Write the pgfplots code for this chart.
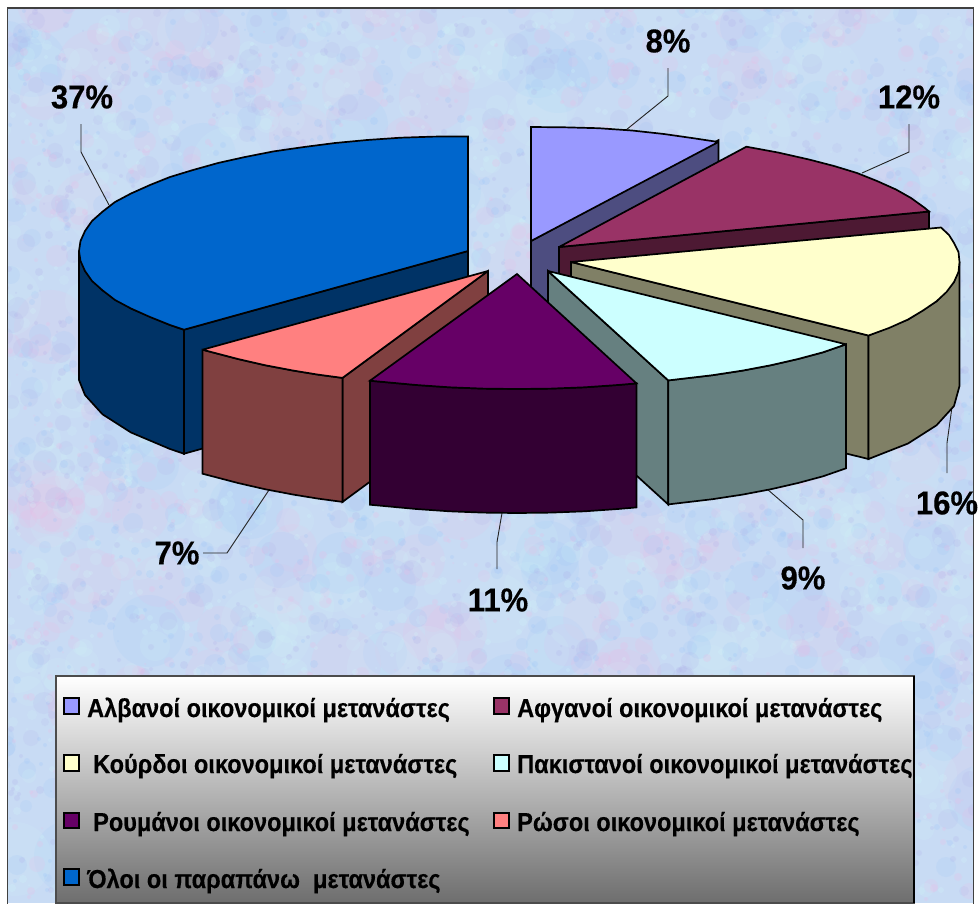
\documentclass[border=0pt]{standalone}
\usepackage{fontspec}
\usepackage{pgfplots}
\pgfplotsset{compat=1.18}
\setmainfont{Liberation Sans}
\newfontfamily\pctfont[BoldFeatures={FakeStretch=0.94,FakeBold=0.35}]{Liberation Sans}
\newfontfamily\keyfont[BoldFeatures={FakeStretch=0.905,FakeBold=0.3}]{Liberation Sans}

% slice colours: top faces and darker walls
\definecolor{albTop}{HTML}{9999FF}\definecolor{albSide}{HTML}{4D4D80}
\definecolor{afgTop}{HTML}{993366}\definecolor{afgSide}{HTML}{4D1933}
\definecolor{kurTop}{HTML}{FFFFCC}\definecolor{kurSide}{HTML}{808066}
\definecolor{pakTop}{HTML}{CCFFFF}\definecolor{pakSide}{HTML}{668080}
\definecolor{rouTop}{HTML}{660066}\definecolor{rouSide}{HTML}{330033}
\definecolor{rusTop}{HTML}{FF8080}\definecolor{rusSide}{HTML}{804040}
\definecolor{allTop}{HTML}{0066CC}\definecolor{allSide}{HTML}{003366}
\definecolor{leader}{HTML}{222222}
\definecolor{paper}{HTML}{C8DBF4}
\definecolor{mottleA}{HTML}{F0B8E4}
\definecolor{mottleB}{HTML}{98C4FA}
\definecolor{mottleC}{HTML}{D2F8FA}
\definecolor{mottleD}{HTML}{B0B0EA}

% small congruential generator for the paper texture
\newcount\txs \newcount\txq \global\txs=4711
\newcommand\txnext{%
  \global\multiply\txs by 17364
  \global\txq=\txs \global\divide\txq by 65521 \global\multiply\txq by 65521
  \global\advance\txs by -\txq}
\newcount\txx \newcount\txy \newcount\txr
% #1 number of blotches, #2 smallest radius, #3 radius range
\newcommand\blotches[3]{%
  \foreach \n in {1,...,#1}{%
    \txnext \txx=\numexpr\txs*985/65521\relax
    \txnext \txy=\numexpr\txs*900/65521\relax
    \txnext \txr=\numexpr #2+\txs*#3/65521\relax
    \fill (\the\txx pt,\the\numexpr903-\txy\relax pt) circle[radius=\the\txr pt];
  }}

\tikzset{slice/.style={line width=1.7pt,draw=black,line join=miter,miter limit=3},
         lead/.style={line width=0.9pt,draw=leader},
         key/.style={fill=#1,draw=black,line width=1.5pt}}

\newcommand\pct[3]{\node[inner sep=0pt,anchor=center] at (axis cs:#1,#2)
  {\pctfont\bfseries\fontsize{33}{33}\selectfont #3};}
\newcommand\keytext[3]{\node[inner sep=0pt,anchor=base west] at (axis cs:#1,#2)
  {\keyfont\bfseries\fontsize{26}{26}\selectfont #3};}

\begin{document}
\begin{tikzpicture}[x=1pt,y=1pt]
\path[use as bounding box] (0,0) rectangle (979,903);
\fill[white] (0,0) rectangle (979,903);
\begin{scope}
  \clip (7.5,-2) rectangle (973.5,895);
  \fill[paper] (0,0) rectangle (979,903);
  \begin{scope}[fill opacity=0.13]
    \begin{scope}[fill=mottleA]\blotches{120}{12}{26}\end{scope}
    \begin{scope}[fill=mottleB]\blotches{120}{12}{26}\end{scope}
    \begin{scope}[fill=mottleC]\blotches{150}{12}{26}\end{scope}
  \end{scope}
  \begin{scope}[fill opacity=0.16]
    \begin{scope}[fill=mottleA]\blotches{420}{4}{8}\end{scope}
    \begin{scope}[fill=mottleB]\blotches{420}{4}{8}\end{scope}
    \begin{scope}[fill=mottleC]\blotches{500}{4}{8}\end{scope}
    \begin{scope}[fill=mottleD]\blotches{420}{4}{8}\end{scope}
  \end{scope}
  \begin{scope}[fill opacity=0.22]
    \begin{scope}[fill=mottleA]\blotches{800}{1}{3}\end{scope}
    \begin{scope}[fill=mottleB]\blotches{800}{1}{3}\end{scope}
    \begin{scope}[fill=mottleC]\blotches{900}{1}{3}\end{scope}
    \begin{scope}[fill=mottleD]\blotches{800}{1}{3}\end{scope}
  \end{scope}
\end{scope}
\draw[draw=black!75,line width=1.5pt] (7.5,-5) -- (7.5,895) -- (973.5,895) -- (973.5,-5);

\begin{axis}[at={(0,0)},anchor=south west,scale only axis,width=979pt,height=903pt,
  xmin=0,xmax=979,ymin=0,ymax=903,y dir=reverse,hide axis,clip=true,no markers]

% leader lines
\addplot[lead,forget plot] coordinates {(81,124) (81,152) (109,205)};
\addplot[lead,forget plot] coordinates {(668,68) (668,96) (626,130)};
\addplot[lead,forget plot] coordinates {(909,124) (909,152) (862,173)};
\addplot[lead,forget plot] coordinates {(947,473) (947,443) (952,407)};
\addplot[lead,forget plot] coordinates {(803,548) (803,520) (767,489)};
\addplot[lead,forget plot] coordinates {(497,569) (497,542) (502,513)};
\addplot[lead,forget plot] coordinates {(203,553) (227,553) (269,490)};

% Albanian share, 8%
\addplot[slice,fill=albSide,forget plot] coordinates {(531,241) (718.4,140.2) (718.4,264.2) (531,365)} --cycle;
\addplot[slice,fill=albTop,forget plot] coordinates {(531,241) (531,127) (564,127.3) (598.5,128.2) (632,130.5) (664,134) (692,138) (718.4,142)} --cycle;

% Afghan share, 12%
\addplot[slice,fill=afgSide,forget plot] coordinates {(559,247) (929,211.5) (929,335.5) (559,371)} --cycle;
\addplot[slice,fill=afgTop,forget plot] coordinates {(559,247) (746.4,146.7) (778,152.5) (809,159.5) (834,166) (857,173) (877,181) (896,189.5) (911,198) (924.5,207.7) (929,211.5)} --cycle;

% Kurdish share, 16%
\addplot[slice,fill=kurSide,forget plot] coordinates {(571,262) (868.5,335.5) (868.5,459) (571,386)} --cycle;
\addplot[slice,fill=kurSide,forget plot] coordinates {(959.5,262) (954,282) (936.5,301.3) (908,319.5) (868.5,335.5) (868.5,459) (908,443.5) (936.5,425.3) (954,406) (959.5,386)} --cycle;
\addplot[slice,fill=kurTop,forget plot] coordinates {(571,262) (941,227.5) (949,235) (954,243) (958.5,252) (959.5,262) (958.5,272) (954,282) (946.5,292) (936.5,301.3) (923,310.5) (908,319.5) (889,328) (868.5,335.5)} --cycle;

% combined share, 37%
\addplot[slice,fill=allSide,forget plot] coordinates {(468,251) (184,329.7) (184,453.7) (468,375)} --cycle;
\addplot[slice,fill=allSide,forget plot] coordinates {(79,251) (85,271) (102.5,290.3) (131,308.5) (170,325) (184,329.7) (184,453.7) (170,449) (131,432.5) (102.5,414.3) (85,395) (79,380)} --cycle;
\addplot[slice,fill=allTop,forget plot] coordinates {(468,251) (468,136.5) (434,136.6) (400.5,137.7) (367,140) (335,143) (304,147) (273.5,151.4) (245,157) (218,163) (193,170) (170,177) (150,185) (131,193.5) (115,202) (102.5,211.7) (92,221) (85,231) (80.5,241) (79,251) (80.5,261) (85,271) (92,281) (102.5,290.3) (115,300) (131,308.5) (150,317) (170,325) (184,329.7)} --cycle;

% Russian share, 7%
\addplot[slice,fill=rusSide,forget plot] coordinates {(488,271) (342.5,377.9) (342.5,501.9) (488,395)} --cycle;
\addplot[slice,fill=rusSide,forget plot] coordinates {(202.5,349.7) (238,359) (265,365.2) (293.5,370.6) (318,374.6) (342.5,377.9) (342.5,501.9) (318,498.6) (293.5,494.6) (265,489.2) (238,483) (202.5,473.7)} --cycle;
\addplot[slice,fill=rusTop,forget plot] coordinates {(488,271) (202.5,349.7) (238,359) (265,365.2) (293.5,370.6) (318,374.6) (342.5,377.9)} --cycle;

% Pakistani share, 9%
\addplot[slice,fill=pakSide,forget plot] coordinates {(548,271) (668.2,380.4) (668.2,504.4) (548,395)} --cycle;
\addplot[slice,fill=pakSide,forget plot] coordinates {(846,344.3) (823,352.3) (798,359) (771,365.2) (742.5,370.6) (712.4,375.2) (668.2,380.4) (668.2,504.4) (712.4,499.2) (742.5,494.6) (771,489.2) (798,483) (823,476.3) (846,468.3)} --cycle;
\addplot[slice,fill=pakTop,forget plot] coordinates {(548,271) (846,344.3) (823,352.3) (798,359) (771,365.2) (742.5,370.6) (712.4,375.2) (668.2,380.4)} --cycle;

% Romanian share, 11%
\addplot[slice,fill=rouSide,forget plot] coordinates {(636.5,383.4) (617.7,385) (584.5,387.3) (551,388.6) (517,389) (483,388.6) (449.5,387.3) (416.3,385) (370,380.7) (370,504.7) (416.3,509) (449.5,511.3) (483,512.6) (517,513) (551,512.6) (584.5,511.3) (617.7,509) (636.5,507.4)} --cycle;
\addplot[slice,fill=rouTop,forget plot] coordinates {(517,274) (636.5,383.4) (617.7,385) (584.5,387.3) (551,388.6) (517,389) (483,388.6) (449.5,387.3) (416.3,385) (370,380.7)} --cycle;

% percentage labels
\pct{82}{97}{37\%}
\pct{668}{41}{8\%}
\pct{909}{97}{12\%}
\pct{947}{503}{16\%}
\pct{803}{578}{9\%}
\pct{498}{600}{11\%}
\pct{177}{553}{7\%}

% key box with its vertical gradient
\path[top color=white,bottom color=black!57,draw=black!70,line width=1.3pt] (axis cs:56,676) rectangle (axis cs:914,903);
\addplot[draw=black,line width=1.2pt,forget plot] coordinates {(914,676) (914,903)};

\addplot[key=albTop,forget plot] coordinates {(64,698) (79,698) (79,714) (64,714)} --cycle;
\addplot[key=afgTop,forget plot] coordinates {(494,698) (509,698) (509,714) (494,714)} --cycle;
\addplot[key=kurTop,forget plot] coordinates {(64,755) (79,755) (79,771) (64,771)} --cycle;
\addplot[key=pakTop,forget plot] coordinates {(494,755) (509,755) (509,771) (494,771)} --cycle;
\addplot[key=rouTop,forget plot] coordinates {(64,813) (79,813) (79,828) (64,828)} --cycle;
\addplot[key=rusTop,forget plot] coordinates {(494,813) (509,813) (509,828) (494,828)} --cycle;
\addplot[key=allTop,forget plot] coordinates {(64,869) (79,869) (79,885) (64,885)} --cycle;

\keytext{87}{717}{Αλβανοί οικονομικοί μετανάστες}
\keytext{517}{717}{Αφγανοί οικονομικοί μετανάστες}
\keytext{93}{773}{Κούρδοι οικονομικοί μετανάστες}
\keytext{517}{773}{Πακιστανοί οικονομικοί μετανάστες}
\keytext{93}{831}{Ρουμάνοι οικονομικοί μετανάστες}
\keytext{517}{831}{Ρώσοι οικονομικοί μετανάστες}
\keytext{87}{888}{Όλοι οι παραπάνω\ \ μετανάστες}
\end{axis}
\end{tikzpicture}
\end{document}
